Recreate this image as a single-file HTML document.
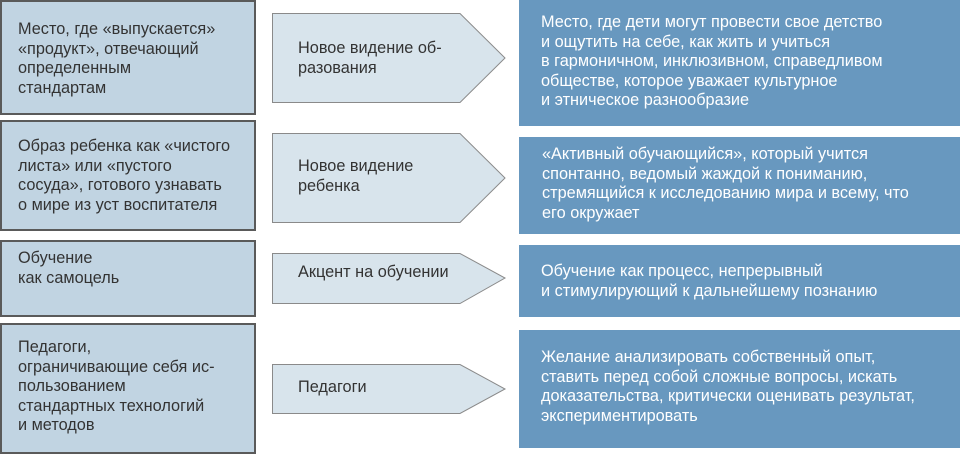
<!DOCTYPE html>
<html><head><meta charset="utf-8"><style>
body{margin:0;width:960px;height:455px;background:#fff;position:relative;overflow:hidden;font-family:"Liberation Sans",Arial,sans-serif;font-size:16.3px;line-height:19.5px}
.l{position:absolute;left:0;width:252px;background:#c1d4e2;border:2px solid #5a5a5a}
.r{position:absolute;left:519px;width:441px;background:#6898bf}
.t{position:absolute;color:#333;white-space:nowrap}
.w{position:absolute;color:#fff;white-space:nowrap}
svg{position:absolute;left:0;top:0}
</style></head><body>
<div class="l" style="top:0;height:111px"></div>
<div class="l" style="top:120px;height:107px"></div>
<div class="l" style="top:240px;height:73px"></div>
<div class="l" style="top:323px;height:127px"></div>
<svg width="960" height="455">
<g fill="#d8e4ec" stroke="#8a8a8a" stroke-width="1">
<polygon points="272.5,13.5 460,13.5 505,58 460,102.5 272.5,102.5"/>
<polygon points="272.5,133.5 460,133.5 505,178 460,222.5 272.5,222.5"/>
<polygon points="272.5,253.5 460,253.5 505,278 460,303.5 272.5,303.5"/>
<polygon points="272.5,364.5 460,364.5 505,389 460,413.5 272.5,413.5"/>
</g></svg>
<div class="r" style="top:0;height:126px"></div>
<div class="r" style="top:137px;height:97px"></div>
<div class="r" style="top:245px;height:72px"></div>
<div class="r" style="top:330px;height:118px"></div>
<div class="t" style="left:18px;top:20px">Место, где «выпускается»<br>«продукт», отвечающий<br>определенным<br>стандартам</div>
<div class="t" style="left:18px;top:137px">Образ ребенка как «чистого<br>листа» или «пустого<br>сосуда», готового узнавать<br>о мире из уст воспитателя</div>
<div class="t" style="left:18px;top:249px">Обучение<br>как самоцель</div>
<div class="t" style="left:18px;top:338px">Педагоги,<br>ограничивающие себя ис-<br>пользованием<br>стандартных технологий<br>и методов</div>
<div class="t" style="left:298px;top:39px">Новое видение об-<br>разования</div>
<div class="t" style="left:298px;top:157px">Новое видение<br>ребенка</div>
<div class="t" style="left:298px;top:263px">Акцент на обучении</div>
<div class="t" style="left:298px;top:378px">Педагоги</div>
<div class="w" style="left:541px;top:13px">Место, где дети могут провести свое детство<br>и ощутить на себе, как жить и учиться<br>в гармоничном, инклюзивном, справедливом<br>обществе, которое уважает культурное<br>и этническое разнообразие</div>
<div class="w" style="left:542px;top:145px">«Активный обучающийся», который учится<br>спонтанно, ведомый жаждой к пониманию,<br>стремящийся к исследованию мира и всему, что<br>его окружает</div>
<div class="w" style="left:541px;top:262px">Обучение как процесс, непрерывный<br>и стимулирующий к дальнейшему познанию</div>
<div class="w" style="left:541px;top:348px">Желание анализировать собственный опыт,<br>ставить перед собой сложные вопросы, искать<br>доказательства, критически оценивать результат,<br>экспериментировать</div>
</body></html>
